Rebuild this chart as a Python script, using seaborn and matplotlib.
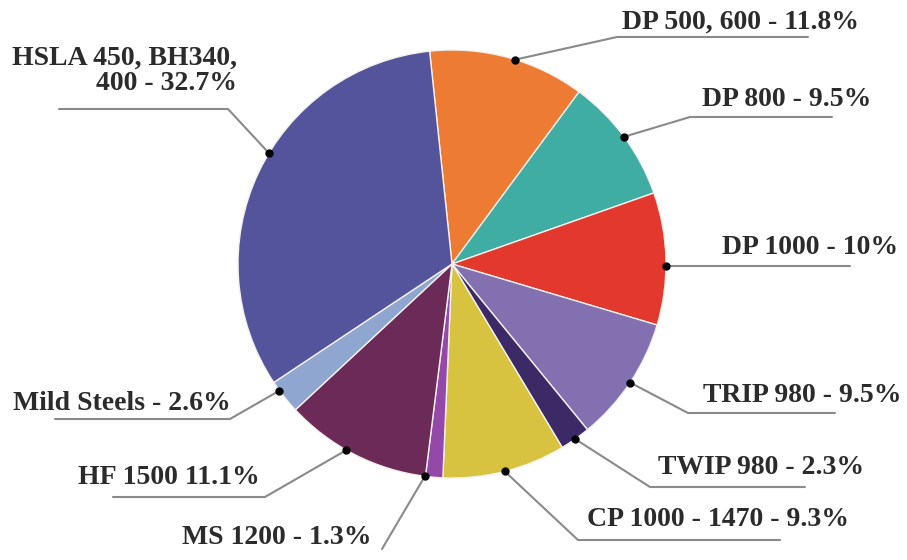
import numpy as np
import matplotlib
matplotlib.use("Agg")
import matplotlib.pyplot as plt
import seaborn as sns

# steel grades and their share (%) - clockwise from the top
grades = ["DP 500, 600", "DP 800", "DP 1000", "TRIP 980", "TWIP 980",
          "CP 1000 - 1470", "MS 1200", "HF 1500", "Mild Steels",
          "HSLA 450, BH340,\n400"]
shares = [11.8, 9.5, 10, 9.5, 2.3, 9.3, 1.3, 11.1, 2.6, 32.7]
label_texts = ["DP 500, 600 - 11.8%", "DP 800 - 9.5%", "DP 1000 - 10%",
               "TRIP 980 - 9.5%", "TWIP 980 - 2.3%", "CP 1000 - 1470 - 9.3%",
               "MS 1200 - 1.3%", "HF 1500 11.1%", "Mild Steels - 2.6%",
               "HSLA 450, BH340,\n400 - 32.7%"]
colors = ["#ee7b33", "#3fada3", "#e3382e", "#8370b0", "#3b2a66",
          "#d8c340", "#9448a8", "#6c2a58", "#8ea6d0", "#54549c"]

# label layout in pixel coords (y from top):
# text x, text y, ha, elbow, line end x, dot angle shift (deg)
W, H = 907, 560
layout = [
    (622, 22, "left", (617, 37), 808, -2),
    (702, 100, "left", (690, 117), 832, 0),
    (722, 248, "left", None, 850, -2),
    (703, 395, "left", (688, 413), 835, 0),
    (658, 467, "left", (650, 487), 805, 0),
    (587, 520, "left", (578, 540), 780, 0),
    (182, 538, "left", (382, 549), 382, -2.5),
    (78, 478, "left", (265, 497), 113, -2.5),
    (13, 403, "left", (230, 419), 55, -2),
    (237, 71, "right", (228, 109), 59, -6),
]

sns.set_theme(style="white")
plt.rcParams["font.family"] = ["Liberation Serif", "DejaVu Serif"]

fig = plt.figure(figsize=(W / 100, H / 100), dpi=100)
ax = fig.add_axes([0, 0, 1, 1])
wedges, _ = ax.pie(shares, colors=sns.color_palette(colors), startangle=96,
                   counterclock=False, center=(452, H - 264), radius=214,
                   wedgeprops=dict(edgecolor="#f4f0ea", linewidth=1.0))
ax.set_xlim(0, W)
ax.set_ylim(0, H)
ax.set_aspect("equal")
ax.axis("off")

for w, txt, (tx, ty, ha, elbow, end_x, shift) in zip(wedges, label_texts, layout):
    mid = np.deg2rad((w.theta1 + w.theta2) / 2 + shift)
    cx, cy = w.center
    dx, dy = cx + w.r * np.cos(mid), cy + w.r * np.sin(mid)
    if elbow is None:
        ex, ey = dx, dy
    else:
        ex, ey = elbow[0], H - elbow[1]
    ax.plot([dx, ex, end_x], [dy, ey, ey], color="#8a8a8a", lw=1.5,
            solid_capstyle="round", zorder=3)
    ax.plot(dx, dy, "o", color="black", markersize=5, zorder=4)
    ax.text(tx, H - ty, txt, ha=ha, va="center", multialignment=ha,
            fontsize=20, fontweight="bold", color="#2b2b2b",
            linespacing=1.0)

fig.savefig("out.png", dpi=100)
